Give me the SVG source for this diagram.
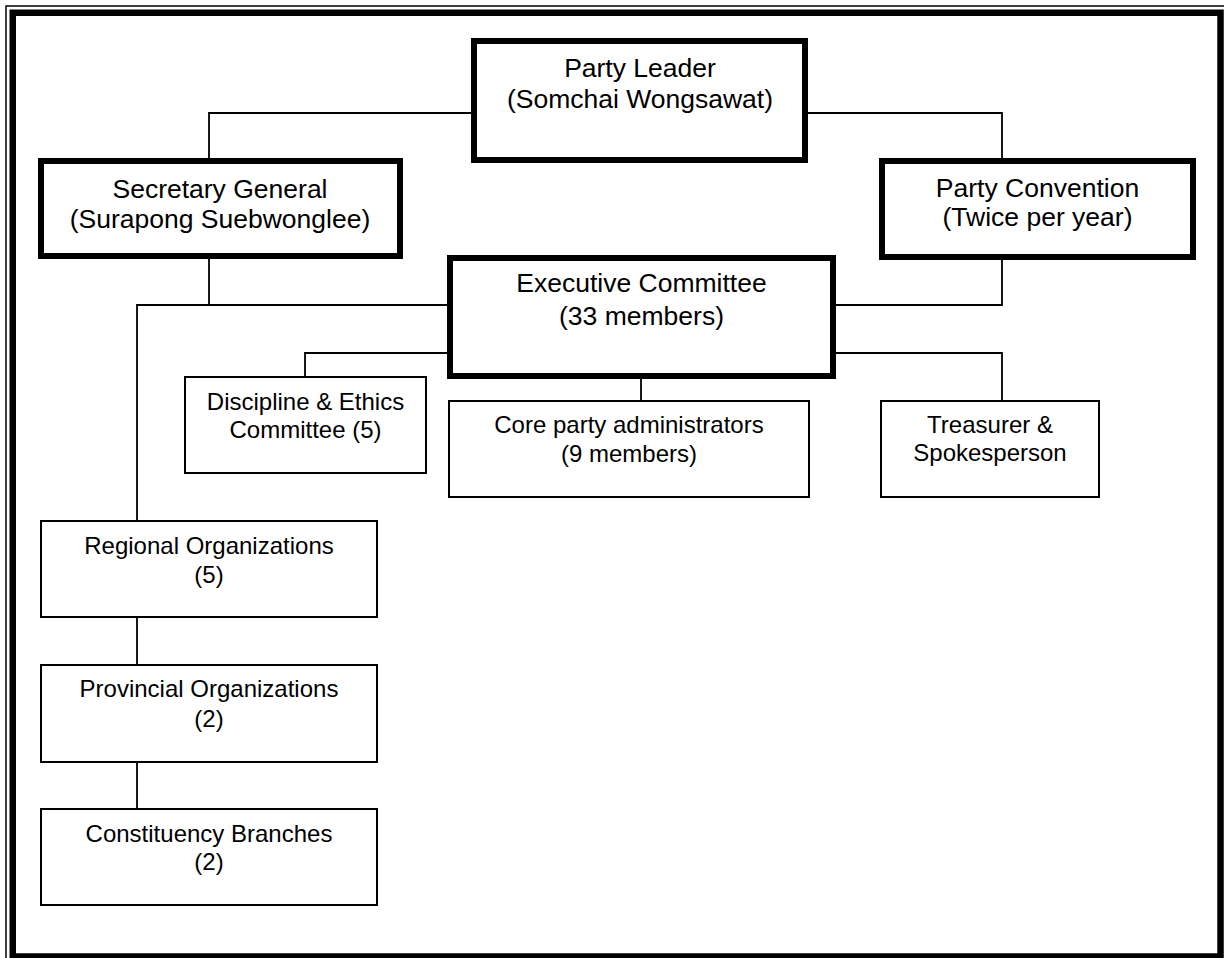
<svg xmlns="http://www.w3.org/2000/svg" width="1224" height="958" viewBox="0 0 1224 958">
<style>
.big{fill:#fff;stroke:#000;stroke-width:6}
.small{fill:#fff;stroke:#000;stroke-width:2}
.bt{font-family:"Liberation Sans",Arial,sans-serif;font-size:26.5px;fill:#000;text-anchor:middle}
.st{font-family:"Liberation Sans",Arial,sans-serif;font-size:24px;fill:#000;text-anchor:middle}
.conn{fill:none;stroke:#000;stroke-width:1.8}
</style>
<rect x="0" y="0" width="1224" height="958" fill="#fff"/>
<rect x="6" y="6" width="1226" height="962" fill="none" stroke="#000" stroke-width="1.5"/>
<rect x="12.75" y="12.75" width="1207.75" height="943.75" fill="none" stroke="#000" stroke-width="6.5"/>
<g id="connectors">
<polyline class="conn" points="209,158 209,113 471,113"/>
<polyline class="conn" points="808,113 1002,113 1002,158"/>
<polyline class="conn" points="209,259 209,305"/>
<polyline class="conn" points="447,305 137,305 137,521"/>
<polyline class="conn" points="1002,260 1002,305 836,305"/>
<polyline class="conn" points="447,353 305,353 305,377"/>
<polyline class="conn" points="836,353 1002,353 1002,401"/>
<polyline class="conn" points="641,379 641,401"/>
<polyline class="conn" points="137,617 137,665"/>
<polyline class="conn" points="137,762 137,809"/>
</g>
<g id="party-leader">
<rect class="big" x="474" y="41" width="331" height="119"/>
<text class="bt" x="640" y="77">Party Leader</text>
<text class="bt" x="640" y="108">(Somchai Wongsawat)</text>
</g>
<g id="secretary-general">
<rect class="big" x="41" y="161" width="359" height="95"/>
<text class="bt" x="220" y="198">Secretary General</text>
<text class="bt" x="220" y="228">(Surapong Suebwonglee)</text>
</g>
<g id="party-convention">
<rect class="big" x="882" y="161" width="311" height="96"/>
<text class="bt" x="1037.5" y="197">Party Convention</text>
<text class="bt" x="1037.5" y="226">(Twice per year)</text>
</g>
<g id="executive-committee">
<rect class="big" x="450" y="258" width="383" height="118"/>
<text class="bt" x="641.5" y="292">Executive Committee</text>
<text class="bt" x="641.5" y="325">(33 members)</text>
</g>
<g id="discipline">
<rect class="small" x="185" y="377" width="241" height="96"/>
<text class="st" x="305.5" y="410">Discipline &amp; Ethics</text>
<text class="st" x="305.5" y="438">Committee (5)</text>
</g>
<g id="core-admin">
<rect class="small" x="449" y="401" width="360" height="96"/>
<text class="st" x="629" y="433">Core party administrators</text>
<text class="st" x="629" y="462">(9 members)</text>
</g>
<g id="treasurer">
<rect class="small" x="881" y="401" width="218" height="96"/>
<text class="st" x="990" y="433">Treasurer &amp;</text>
<text class="st" x="990" y="461">Spokesperson</text>
</g>
<g id="regional">
<rect class="small" x="41" y="521" width="336" height="96"/>
<text class="st" x="209" y="554">Regional Organizations</text>
<text class="st" x="209" y="583">(5)</text>
</g>
<g id="provincial">
<rect class="small" x="41" y="665" width="336" height="97"/>
<text class="st" x="209" y="697">Provincial Organizations</text>
<text class="st" x="209" y="727">(2)</text>
</g>
<g id="constituency">
<rect class="small" x="41" y="809" width="336" height="96"/>
<text class="st" x="209" y="842">Constituency Branches</text>
<text class="st" x="209" y="870">(2)</text>
</g>
</svg>
